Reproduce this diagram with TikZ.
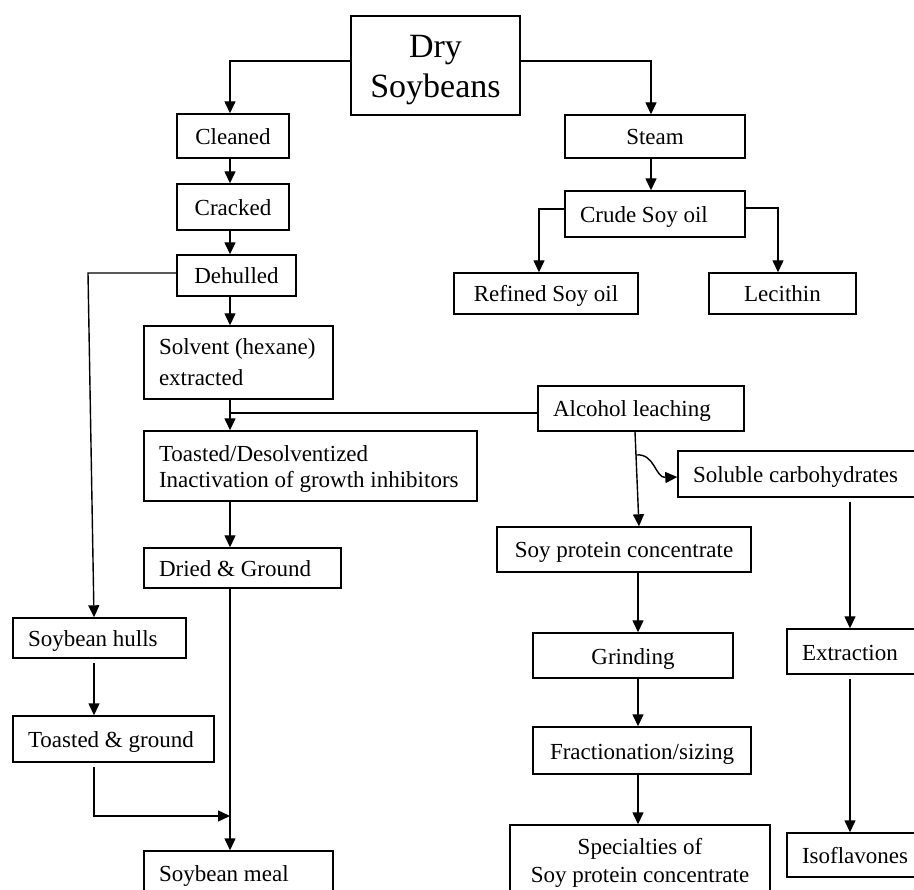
\documentclass[tikz,border=0pt]{standalone}
\usepackage{fontspec}
\setmainfont{Liberation Serif}
\usetikzlibrary{arrows.meta,calc}
\begin{document}
\begin{tikzpicture}[x=1pt,y=-1pt,
  box/.style={draw, line width=1.4pt, inner ysep=0pt, font=\fontsize{23}{27}\selectfont},
  lbox/.style={box, align=flush left, inner xsep=15pt},
  cbox/.style={box, align=center, inner xsep=0pt},
  sl/.style={text height=17pt, text depth=0pt},
  arr/.style={line width=1.4pt, -{Triangle[length=12pt,width=11pt]}},
  ln/.style={line width=1.4pt}]
\clip (0,0) rectangle (914,890);
% nodes
\node[cbox, minimum width=169pt, minimum height=99pt, font=\fontsize{34}{40}\selectfont] (dry) at (435.5,65.5) {\rule{0pt}{31pt}Dry\\Soybeans};
\node[cbox, sl, minimum width=112pt, minimum height=44pt] (cleaned) at (233,136) {Cleaned};
\node[cbox, sl, minimum width=112pt, minimum height=46pt] (cracked) at (233,207) {Cracked};
\node[cbox, sl, minimum width=119pt, minimum height=41pt] (dehulled) at (236.5,275.5) {Dehulled};
\node[lbox, text width=159pt, minimum height=73pt, font=\fontsize{23}{31}\selectfont] (solvent) at (238.5,362.5) {\mbox{Solvent (hexane)}\\\mbox{extracted}};
\node[lbox, text width=303pt, minimum height=70pt, font=\fontsize{23}{26}\selectfont] (toasted) at (310.5,466) {\rule{0pt}{22pt}\mbox{Toasted/Desolventized}\\\mbox{Inactivation of growth inhibitors}};
\node[lbox, sl, text width=167pt, minimum height=40pt] (dried) at (242.5,568) {\mbox{Dried \& Ground}};
\node[lbox, sl, text width=159pt, minimum height=44pt] (meal) at (238.5,873) {\mbox{Soybean meal}};
\node[lbox, sl, text width=143pt, minimum height=40pt] (hulls) at (99.5,638) {\mbox{Soybean hulls}};
\node[lbox, sl, text width=171pt, minimum height=46pt] (tground) at (113.5,739) {\mbox{Toasted \& ground}};
\node[cbox, sl, minimum width=180pt, minimum height=43pt] (steam) at (655,136.5) {Steam};
\node[lbox, sl, text width=150pt, minimum height=46pt] (crude) at (655,214) {\mbox{Crude Soy oil}};
\node[cbox, sl, minimum width=184pt, minimum height=41pt] (refined) at (546,293.5) {Refined Soy oil};
\node[cbox, sl, minimum width=147pt, minimum height=41pt] (lecithin) at (782.5,293.5) {Lecithin};
\node[lbox, sl, text width=176pt, minimum height=45pt] (alcohol) at (641,408.5) {\mbox{Alcohol leaching}};
\node[lbox, sl, text width=222pt, minimum height=46pt] (soluble) at (804,474) {\mbox{Soluble carbohydrates}};
\node[cbox, sl, minimum width=254pt, minimum height=45pt] (spc) at (624,549.5) {Soy protein concentrate};
\node[cbox, sl, minimum width=200pt, minimum height=45pt] (grinding) at (633,655.5) {Grinding};
\node[cbox, sl, minimum width=218pt, minimum height=47pt] (frac) at (642,750.5) {Fractionation/sizing};
\node[cbox, minimum width=260pt, minimum height=75pt, font=\fontsize{23}{28}\selectfont] (spec) at (640,862.5) {Specialties of\\Soy protein concentrate};
\node[lbox, sl, text width=113pt, minimum height=45pt] (extraction) at (858.5,651.5) {Extraction};
\node[lbox, sl, text width=113pt, minimum height=44pt] (iso) at (858.5,855) {Isoflavones};
% helper coordinates
\coordinate (colx) at (230,0);
\coordinate (hullx) at (94,0);
\coordinate (hk) at (88,273);
\coordinate (junc) at (230,413);
\coordinate (merge) at (230,816);
\coordinate (spcx) at (638,0);
\coordinate (solx) at (850,0);
\coordinate (branch) at (636,455);
% connectors
\draw[arr] ([yshift=4.5pt]dry.west) -| (colx |- cleaned.north);
\draw[arr] ([yshift=4.5pt]dry.east) -| ([xshift=-4pt]steam.north);
\draw[arr] (colx |- cleaned.south) -- (colx |- cracked.north);
\draw[arr] (colx |- cracked.south) -- (colx |- dehulled.north);
\draw[arr] (colx |- dehulled.south) -- (colx |- solvent.north);
\draw[arr] (colx |- solvent.south) -- (colx |- toasted.north);
\draw[ln] ([yshift=-4.5pt]alcohol.west) -- (junc);
\draw[arr] (colx |- toasted.south) -- (colx |- dried.north);
\draw[arr] (colx |- dried.south) -- (colx |- meal.north);
\draw[arr] ([yshift=2.5pt]dehulled.west) -- (hk) -- (hullx |- hulls.north);
\draw[arr] ($(hullx |- hulls.south)+(0,4)$) -- (hullx |- tground.north);
\draw[arr] ($(hullx |- tground.south)+(0,4)$) |- (merge);
\draw[arr] ([xshift=-4pt]steam.south) -- ([xshift=-4pt]crude.north);
\draw[arr] ([yshift=5pt]crude.west) -| ([xshift=-7pt]refined.north);
\draw[arr] ([yshift=6pt]crude.east) -| ([xshift=-4.5pt]lecithin.north);
\draw[arr] ([xshift=-6pt]alcohol.south) -- ([xshift=15pt]spc.north);
\draw[arr] (branch) .. controls (655,453) and (655,478) .. ([yshift=-3pt]soluble.west);
\draw[arr] ($(solx |- soluble.south)+(0,4)$) -- (solx |- extraction.north);
\draw[arr] ($(solx |- extraction.south)+(0,4)$) -- (solx |- iso.north);
\draw[arr] (spcx |- spc.south) -- (spcx |- grinding.north);
\draw[arr] (spcx |- grinding.south) -- (spcx |- frac.north);
\draw[arr] (spcx |- frac.south) -- (spcx |- spec.north);
\end{tikzpicture}
\end{document}
